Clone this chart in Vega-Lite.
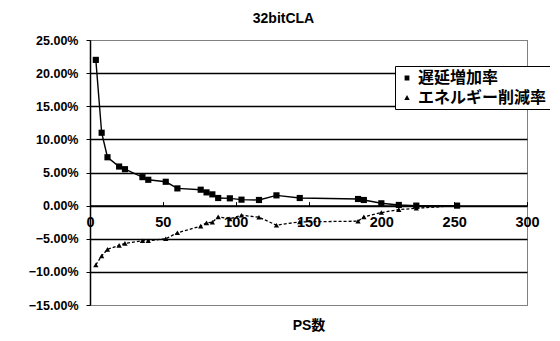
{
  "$schema": "https://vega.github.io/schema/vega-lite/v6.json",
  "width": 437,
  "height": 265,
  "autosize": {"type": "none"},
  "padding": {"left": 90, "top": 40, "right": 23, "bottom": 36},
  "background": "white",
  "config": {
    "font": "Liberation Sans, Noto Sans CJK JP, sans-serif",
    "view": {"stroke": "black", "strokeDash": [1, 1], "strokeWidth": 1}
  },
  "title": {"text": "32bitCLA", "fontSize": 14, "fontWeight": "bold", "color": "black", "anchor": "middle", "dx": -25, "offset": 8},
  "data": {
    "values": [
      {"ps": 4, "series": "遅延増加率", "v": 0.22},
      {"ps": 8, "series": "遅延増加率", "v": 0.11},
      {"ps": 12, "series": "遅延増加率", "v": 0.073},
      {"ps": 20, "series": "遅延増加率", "v": 0.059},
      {"ps": 24, "series": "遅延増加率", "v": 0.055},
      {"ps": 36, "series": "遅延増加率", "v": 0.043},
      {"ps": 40, "series": "遅延増加率", "v": 0.039},
      {"ps": 52, "series": "遅延増加率", "v": 0.036},
      {"ps": 60, "series": "遅延増加率", "v": 0.026},
      {"ps": 76, "series": "遅延増加率", "v": 0.024},
      {"ps": 80, "series": "遅延増加率", "v": 0.02},
      {"ps": 84, "series": "遅延増加率", "v": 0.017},
      {"ps": 88, "series": "遅延増加率", "v": 0.0115},
      {"ps": 96, "series": "遅延増加率", "v": 0.011},
      {"ps": 104, "series": "遅延増加率", "v": 0.009},
      {"ps": 116, "series": "遅延増加率", "v": 0.0085},
      {"ps": 128, "series": "遅延増加率", "v": 0.0155},
      {"ps": 144, "series": "遅延増加率", "v": 0.0115},
      {"ps": 184, "series": "遅延増加率", "v": 0.01},
      {"ps": 188, "series": "遅延増加率", "v": 0.0085},
      {"ps": 200, "series": "遅延増加率", "v": 0.0035},
      {"ps": 212, "series": "遅延増加率", "v": 0.001},
      {"ps": 224, "series": "遅延増加率", "v": 0.0},
      {"ps": 252, "series": "遅延増加率", "v": 0.0},
      {"ps": 4, "series": "エネルギー削減率", "v": -0.0895},
      {"ps": 8, "series": "エネルギー削減率", "v": -0.076},
      {"ps": 12, "series": "エネルギー削減率", "v": -0.066},
      {"ps": 20, "series": "エネルギー削減率", "v": -0.06},
      {"ps": 24, "series": "エネルギー削減率", "v": -0.057},
      {"ps": 36, "series": "エネルギー削減率", "v": -0.053},
      {"ps": 40, "series": "エネルギー削減率", "v": -0.053},
      {"ps": 52, "series": "エネルギー削減率", "v": -0.05},
      {"ps": 60, "series": "エネルギー削減率", "v": -0.041},
      {"ps": 76, "series": "エネルギー削減率", "v": -0.031},
      {"ps": 80, "series": "エネルギー削減率", "v": -0.026},
      {"ps": 84, "series": "エネルギー削減率", "v": -0.025},
      {"ps": 88, "series": "エネルギー削減率", "v": -0.017},
      {"ps": 96, "series": "エネルギー削減率", "v": -0.02},
      {"ps": 104, "series": "エネルギー削減率", "v": -0.0145},
      {"ps": 116, "series": "エネルギー削減率", "v": -0.0175},
      {"ps": 128, "series": "エネルギー削減率", "v": -0.0295},
      {"ps": 144, "series": "エネルギー削減率", "v": -0.0245},
      {"ps": 184, "series": "エネルギー削減率", "v": -0.0235},
      {"ps": 188, "series": "エネルギー削減率", "v": -0.017},
      {"ps": 200, "series": "エネルギー削減率", "v": -0.0105},
      {"ps": 212, "series": "エネルギー削減率", "v": -0.006},
      {"ps": 224, "series": "エネルギー削減率", "v": -0.004},
      {"ps": 252, "series": "エネルギー削減率", "v": 0.0}
    ]
  },
  "encoding": {
    "x": {
      "field": "ps", "type": "quantitative",
      "scale": {"domain": [0, 300], "nice": false, "zero": false},
      "axis": {
        "title": "PS数", "values": [0, 50, 100, 150, 200, 250, 300],
        "offset": -99.4, "grid": false,
        "labelFontSize": 14.5, "labelFontWeight": "bold", "labelColor": "black",
        "labelFlush": false, "labelOverlap": false,
        "tickSize": -4, "tickColor": "black", "tickWidth": 1,
        "labelPadding": 14,
        "domainColor": "black", "domainWidth": 1.5,
        "titleFontSize": 14, "titleFontWeight": "bold", "titleColor": "black",
        "titleY": 120, "titleBaseline": "middle"
      }
    },
    "y": {
      "field": "v", "type": "quantitative",
      "scale": {"domain": [-0.15, 0.25], "nice": false, "zero": false},
      "axis": {
        "title": null,
        "values": [-0.15, -0.1, -0.05, 0, 0.05, 0.1, 0.15, 0.2, 0.25],
        "format": ".2%",
        "labelFontSize": 12.5, "labelFontWeight": "bold", "labelColor": "black",
        "labelPadding": 8, "tickSize": 4, "tickColor": "black",
        "domainColor": "black", "domainWidth": 1.5,
        "grid": true, "gridColor": "black", "gridWidth": 1.4,
        "gridOpacity": {"condition": {"test": "datum.value > 0.24 || datum.value < -0.14", "value": 0}, "value": 1}
      }
    }
  },
  "layer": [
    {
      "transform": [{"filter": "datum.series === '遅延増加率'"}],
      "mark": {"type": "line", "color": "black", "strokeWidth": 1.4},
      "encoding": {"order": {"field": "ps", "type": "quantitative"}}
    },
    {
      "transform": [{"filter": "datum.series === 'エネルギー削減率'"}],
      "mark": {"type": "line", "color": "black", "strokeWidth": 1.3, "strokeDash": [3, 2]},
      "encoding": {"order": {"field": "ps", "type": "quantitative"}}
    },
    {
      "transform": [{"filter": "datum.series === '遅延増加率'"}],
      "mark": {"type": "point", "shape": "square", "filled": true, "color": "black", "opacity": 1, "size": 38}
    },
    {
      "transform": [{"filter": "datum.series === 'エネルギー削減率'"}],
      "mark": {"type": "point", "shape": "triangle-up", "filled": true, "color": "black", "opacity": 1, "size": 28}
    },
    {
      "mark": {"type": "point", "filled": true, "fill": "black", "stroke": "black", "strokeWidth": 1.3, "opacity": 0, "size": 1},
      "encoding": {
        "shape": {
          "field": "series", "type": "nominal",
          "scale": {
            "domain": ["遅延増加率", "エネルギー削減率"],
            "range": [
              "M-1,0H1M-0.3,-0.3H0.3V0.3H-0.3Z",
              "M-1,0H-0.85M-0.7,0H-0.55M-0.4,0H-0.3M0.3,0H0.4M0.55,0H0.7M0.85,0H1M0,-0.38L0.34,0.26H-0.34Z"
            ]
          },
          "legend": {
            "title": null, "orient": "none", "legendX": 305, "legendY": 26,
            "strokeColor": "black", "fillColor": "white",
            "padding": 3, "rowPadding": 3,
            "labelFontSize": 16, "labelFontWeight": "bold", "labelColor": "black",
            "labelFont": "Noto Sans CJK JP", "labelOffset": 2,
            "symbolSize": 256, "symbolOpacity": 1,
            "symbolFillColor": "black", "symbolStrokeColor": "black", "symbolStrokeWidth": 1.3
          }
        }
      }
    }
  ]
}
